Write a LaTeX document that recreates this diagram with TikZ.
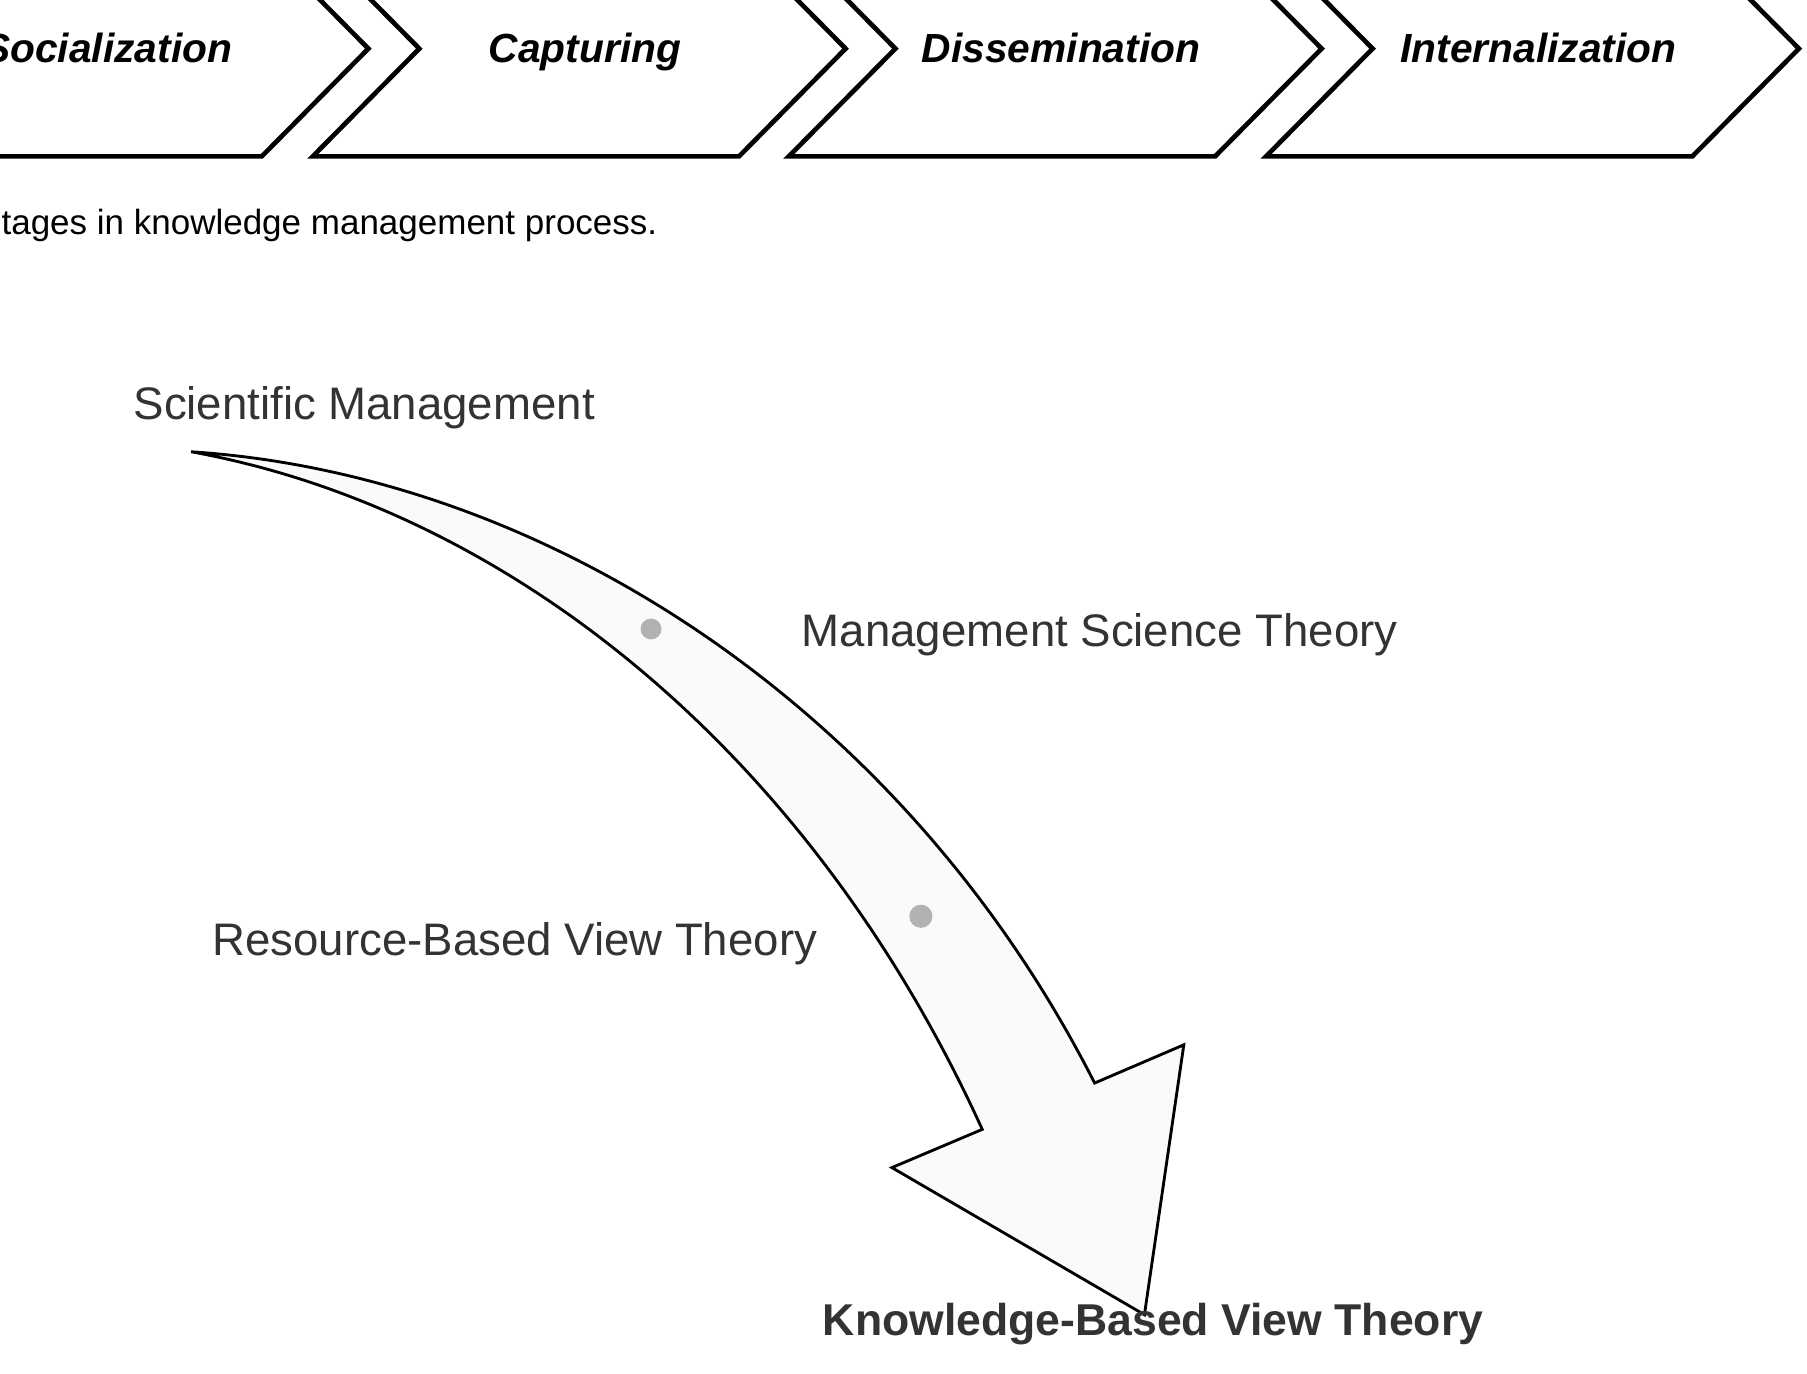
\documentclass[tikz,border=0pt]{standalone}
\usepackage{fontspec}
\setmainfont{Liberation Sans}
\begin{document}
\begin{tikzpicture}[x=0.02cm,y=-0.02cm,
  chev/.style={line width=2.3pt,line join=miter},
  stage/.style={font=\fontsize{20}{24}\selectfont\bfseries\itshape,anchor=base,inner sep=0pt},
  lbl/.style={font=\fontsize{22.4}{26}\selectfont,text=black!80,inner sep=0pt,anchor=west}]
\useasboundingbox (0,0) rectangle (1560,1186);
\begin{scope}
\clip (0,0) rectangle (1560,1186);
\foreach \L/\t/\n in {-142/Socialization/s1,270/Capturing/s2,681/Dissemination/s3,1093/Internalization/s4}{
  \draw[chev] (\L,135) -- (\L+368,135) -- (\L+460,42) -- (\L+368,-51) -- (\L,-51) -- (\L+92,42) -- cycle;
  \node[stage] (\n) at (\L+235,54) {\t};
}
\end{scope}
\node[font=\fontsize{17.2}{20}\selectfont,anchor=west,inner sep=0pt] (cap) at (1,195) {tages in knowledge management process.};
\draw[line width=1.4pt,fill=black!2,line join=miter]
  (165,390) .. controls (470,410) and (780,610) .. (945,935)
  -- (1022,902) -- (988,1135) -- (770,1008) -- (848,975)
  .. controls (700,650) and (440,440) .. cycle;
\fill[black!30] (562,543) circle (9);
\fill[black!30] (795,791) circle (10);
\node[lbl] (sm) at (115,352) {Scientific Management};
\node[lbl] (ms) at (692,548) {Management Science Theory};
\node[lbl] (rb) at (183,815) {Resource-Based View Theory};
\node[lbl,font=\fontsize{21.9}{26}\selectfont\bfseries] (kb) at (710,1143) {Knowledge-Based View Theory};
\end{tikzpicture}
\end{document}
